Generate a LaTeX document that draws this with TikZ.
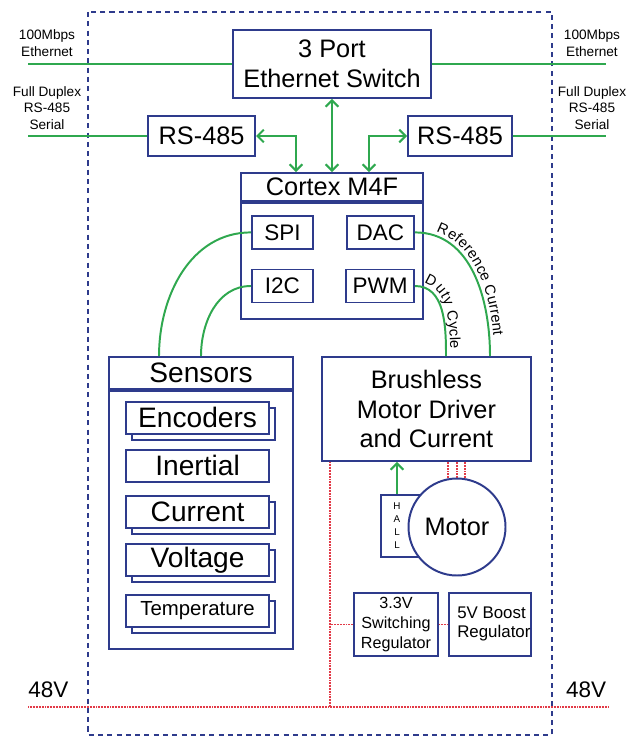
\documentclass[tikz,border=0pt]{standalone}
\usepackage{fontspec}
\setmainfont{Liberation Sans}
\usetikzlibrary{arrows.meta, positioning, calc, shadows, decorations.text}
\definecolor{boxblue}{HTML}{2E3B8C}
\definecolor{linkgreen}{HTML}{2FA84F}
\definecolor{powerred}{HTML}{E23A47}
\newcommand{\curvefont}{\fontsize{10.5}{12}\selectfont}

\begin{document}
\begin{tikzpicture}[
  blk/.style={draw=boxblue, fill=white, line width=1.4pt, inner sep=0pt,
    align=center, font=\fontsize{18}{21}\selectfont},
  subblk/.style={blk, font=\fontsize{16}{18}\selectfont,
    minimum height=0.825cm},
  item/.style={blk, minimum width=3.575cm, minimum height=0.8cm,
    font=\fontsize{20}{22}\selectfont},
  stack/.style={item, copy shadow={shadow xshift=0.15cm, shadow yshift=-0.15cm,
    draw=boxblue, fill=white, line width=1.4pt}},
  regbox/.style={blk, minimum width=2.1cm, minimum height=1.575cm,
    font=\fontsize{11.5}{14}\selectfont},
  lbl/.style={align=center, font=\fontsize{9.7}{12}\selectfont},
  link/.style={draw=linkgreen, line width=1.4pt},
  dlink/.style={link, {Straight Barb[length=4.5pt, width=9pt]}-{Straight Barb[length=4.5pt, width=9pt]}},
  power/.style={draw=powerred, dash pattern=on 0.6pt off 0.5pt, line width=1.2pt},
  outer/.style={draw=boxblue, line width=1.4pt, dash pattern=on 3.6pt off 3pt},
  curvetext/.style={postaction={decorate, decoration={text along path,
    raise=3pt, text align=center, text color=black, text={|\curvefont|#1}}}},
]
\useasboundingbox (0,0) rectangle (15.725,-18.4);
% board outline
\draw[outer] (2.2,-0.3) rectangle (13.8,-18.375);

% external links
\node[lbl] (ethLt) at (1.175,-1.075) {100Mbps\\Ethernet};
\node[lbl] (ethRt) at (14.8,-1.075) {100Mbps\\Ethernet};
\node[lbl] (rsLt) at (1.175,-2.7) {Full Duplex\\RS-485\\Serial};
\node[lbl] (rsRt) at (14.8,-2.7) {Full Duplex\\RS-485\\Serial};
\coordinate (ethL) at (0.7,-1.6);
\coordinate (ethR) at (15.15,-1.6);
\coordinate (rsL0) at (0.7,-3.4);
\coordinate (rsR0) at (15.15,-3.4);

% switch and transceivers
\node[blk, minimum width=4.95cm, minimum height=1.7cm] (switch) at (8.3,-1.6)
  {3 Port\\Ethernet Switch};
\node[blk, minimum width=2.675cm, minimum height=1cm] (rsL) at (5.04,-3.4) {RS-485};
\node[blk, minimum width=2.6cm, minimum height=1cm] (rsR) at (11.5,-3.4) {RS-485};
\draw[link] (ethL) -- (switch.west);
\draw[link] (switch.east) -- (ethR);
\draw[link] (rsL0) -- (rsL.west);
\draw[link] (rsR.east) -- (rsR0);

% MCU
\node[blk, minimum width=4.55cm, minimum height=0.7cm] (cortex) at (8.3,-4.675) {Cortex M4F};
\node[blk, minimum width=4.55cm, minimum height=2.9cm, below=0pt of cortex] (cortexbody) {};
\node[subblk, minimum width=1.525cm] (spi) at (7.06,-5.81) {SPI};
\node[subblk, minimum width=1.675cm] (dac) at (9.51,-5.81) {DAC};
\node[subblk, minimum width=1.525cm] (i2c) at (7.06,-7.15) {I2C};
\node[subblk, minimum width=1.7cm] (pwm) at (9.5,-7.15) {PWM};
\draw[dlink] (switch.south) -- (cortex.north);
\draw[dlink] (rsL.east) -| ($(cortex.north)+(-0.9,0)$);
\draw[dlink] (rsR.west) -| ($(cortex.north)+(0.925,0)$);

% sensors
\node[blk, minimum width=4.6cm, minimum height=0.8cm, font=\fontsize{20}{22}\selectfont]
  (sensors) at (5.025,-9.325) {Sensors};
\node[blk, minimum width=4.6cm, minimum height=6.45cm, below=0pt of sensors] (sensorsbody) {};
\node[stack] (enc) at (4.94,-10.44) {Encoders};
\node[item] (imu) at (4.94,-11.64) {Inertial};
\node[stack] (cur) at (4.94,-12.79) {Current};
\node[stack] (volt) at (4.94,-14.0) {Voltage};
\node[stack, font=\fontsize{14.5}{16}\selectfont] (temp) at (4.94,-15.275) {Temperature};
\draw[link] (spi.west) to[out=180, in=90] ($(sensors.north)+(-1.05,0)$);
\draw[link] (i2c.west) to[out=180, in=90] (sensors.north);

% motor driver
\node[blk, minimum width=5.225cm, minimum height=2.6cm] (driver) at (10.66,-10.225)
  {Brushless\\Motor Driver\\and Current};
\draw[link, curvetext=Reference Current] (dac.east) to[out=0, in=90] ($(driver.north)+(1.59,0)$);
\draw[link, curvetext=Duty Cycle] (pwm.east) to[out=0, in=90] ($(driver.north)+(0.49,0)$);

% motor
\node[blk, minimum width=1.1cm, minimum height=1.55cm,
  label={[name=hallt, xshift=-0.15cm, align=center, font=\fontsize{7}{9.2}\selectfont]center:H\\A\\L\\L}]
  (hall) at (10.075,-13.15) {};
\foreach \dx in {-0.225,0,0.2}
  \draw[power] (11.425,-11.95) ++(\dx,0) coordinate (w) -- (w |- driver.south);
\node[blk, circle, minimum size=2.425cm] (motor) at (11.425,-13.175) {Motor};
\draw[link, -{Straight Barb[length=4.5pt, width=9pt]}] (hall.north -| hallt) -- (driver.south -| hallt);

% power
\node[regbox] (reg33) at (9.9,-15.61) {3.3V\\Switching\\Regulator};
\node[regbox, minimum width=2.05cm] (boost) at (12.25,-15.61) {};
\begin{scope}
  \clip (boost.south west) rectangle ($(boost.north east)+(-0.04,0)$);
  \node[anchor=west, align=left, inner sep=0pt, font=\fontsize{12}{13.5}\selectfont]
    (boostt) at ($(boost.west)+(0.225,0)$) {5V Boost\\Regulator};
\end{scope}
\coordinate (busL) at (0.7,-17.675);
\coordinate (busR) at (15.225,-17.675);
\coordinate (tap) at ($(driver.south west)+(0.225,0)$);
\draw[power] (busL) -- (busR);
\draw[power] (tap) -- (tap |- busL);
\draw[power] (reg33.west) -- (reg33.west -| tap);
\draw[power] (reg33.east) -- (boost.west);
\node[font=\fontsize{16}{18}\selectfont] (vL) at (1.21,-17.25) {48V};
\node[font=\fontsize{16}{18}\selectfont] (vR) at (14.65,-17.25) {48V};
\end{tikzpicture}
\end{document}
